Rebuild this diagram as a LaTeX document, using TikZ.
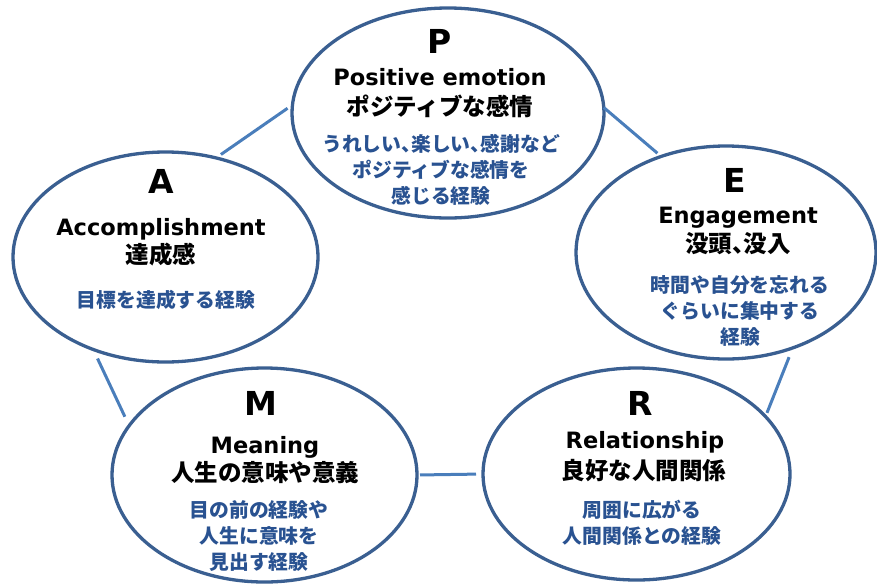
\documentclass[tikz,border=0pt]{standalone}
\usepackage{fontspec}
\setmainfont{DejaVu Sans}
\newfontfamily\jpfont{Noto Sans CJK JP}
\newfontfamily\jpnarrow{Noto Sans CJK JP}[RawFeature=+halt]
\newcommand{\ten}{{\jpnarrow 、}}
\usetikzlibrary{shapes.geometric}

\definecolor{ringblue}{RGB}{58,95,145}
\definecolor{linkblue}{RGB}{74,126,187}
\definecolor{textblue}{RGB}{41,82,145}

\begin{document}
\begin{tikzpicture}[x=1pt,y=-1pt,
    ring/.style={ellipse,draw=ringblue,line width=3.3pt,fill=white,inner sep=0pt,outer sep=0pt},
    letter/.style={font=\fontsize{33}{33}\selectfont\bfseries,anchor=base},
    title/.style={font=\fontsize{22.5}{22.5}\selectfont\bfseries,anchor=base},
    sub/.style={font=\jpfont\bfseries\fontsize{23.5}{23.5}\selectfont,inner sep=0pt},
    desc/.style={font=\jpfont\bfseries\fontsize{19.8}{26}\selectfont,text=textblue,align=center,inner sep=0pt},
    link/.style={draw=linkblue,line width=3pt}]
    \useasboundingbox (0,0) rectangle (877,584);

    % the five circles
    \node[ring,minimum width=312pt,minimum height=210pt] (P) at (448,113) {};
    \node[ring,minimum width=300pt,minimum height=213pt] (E) at (726,252.5) {};
    \node[ring,minimum width=307pt,minimum height=212pt] (R) at (636.5,474) {};
    \node[ring,minimum width=305pt,minimum height=214pt] (M) at (264.5,475) {};
    \node[ring,minimum width=305pt,minimum height=210pt] (A) at (165.5,257) {};

    % P
    \node[letter] (Pl) at (440,53) {P};
    \node[title] (Pt) at (440,85) {Positive emotion};
    \node[sub] (Ps) at (440,106) {ポジティブな感情};
    \node[desc] (Pd) at (441,170) {うれしい\ten 楽しい\ten 感謝など\\ポジティブな感情を\\感じる経験};

    % E
    \node[letter] (El) at (735,192) {E};
    \node[title] (Et) at (738,223) {Engagement};
    \node[sub] (Es) at (738,244) {没頭\ten 没入};
    \node[desc] (Ed) at (740,311) {時間や自分を忘れる\\ぐらいに集中する\\経験};

    % R
    \node[letter] (Rl) at (640,415) {R};
    \node[title] (Rt) at (645,448) {Relationship};
    \node[sub] (Rs) at (644,471) {良好な人間関係};
    \node[desc] (Rd) at (642,522.5) {周囲に広がる\\人間関係との経験};

    % M
    \node[letter] (Ml) at (261,415) {M};
    \node[title] (Mt) at (265,453) {Meaning};
    \node[sub] (Ms) at (265,473) {人生の意味や意義};
    \node[desc] (Md) at (259,536.5) {目の前の経験や\\人生に意味を\\見出す経験};

    % A
    \node[letter] (Al) at (161,193) {A};
    \node[title] (At) at (161,235) {Accomplishment};
    \node[sub] (As) at (161,255) {達成感};
    \node[desc] (Ad) at (166,300) {目標を達成する経験};

    % links round the ring
    \draw[link,shorten <=6pt,shorten >=6pt] (A.63) -- (P.177);
    \draw[link,shorten >=5pt] (P.2) -- (E.124);
    \draw[link,shorten <=10pt,shorten >=4pt] (E.305) -- (R.24);
    \draw[link,shorten <=3pt,shorten >=7pt] (M.0) -- (R.180);
    \draw[link,shorten <=10pt,shorten >=10pt] (A.232) -- (M.160);
\end{tikzpicture}
\end{document}
